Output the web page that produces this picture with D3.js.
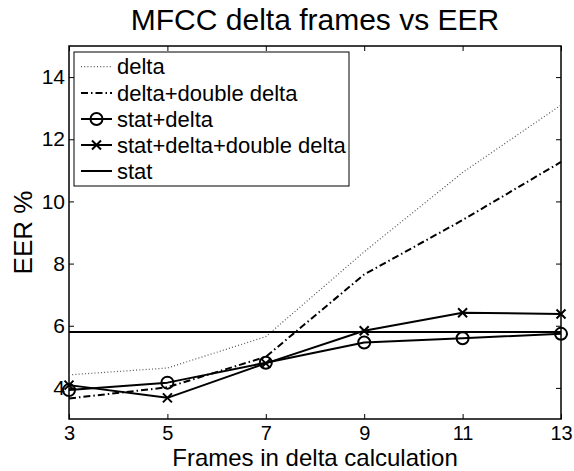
<!DOCTYPE html>
<html>
<head>
<meta charset="utf-8">
<script src="https://cdn.jsdelivr.net/npm/d3@7"></script>
<style>
  html, body { margin: 0; padding: 0; background: #fff; }
  svg { display: block; font-family: "Liberation Sans", Arial, Helvetica, sans-serif; }
</style>
</head>
<body>
<svg id="chart" width="574" height="471"></svg>
<script>
// ---- data ----
const frames = [3, 5, 7, 9, 11, 13];
const delta = [4.42, 4.64, 5.65, 8.38, 10.93, 13.1];
const deltaDouble = [3.66, 4.02, 5.0, 7.65, 9.4, 11.27];
const statDelta = [3.93, 4.17, 4.81, 5.46, 5.6, 5.74];
const statDeltaDouble = [4.09, 3.68, 4.79, 5.84, 6.42, 6.38];
const stat = [5.8, 5.8, 5.8, 5.8, 5.8, 5.8];
const xTicks = [3, 5, 7, 9, 11, 13];
const yTicks = [4, 6, 8, 10, 12, 14];
const seriesNames = ["delta", "delta+double delta", "stat+delta", "stat+delta+double delta", "stat"];

const svg = d3.select("#chart");
const L = 69, R = 561, T = 46, B = 419;
const x = d3.scaleLinear().domain([3, 13]).range([L, R]);
const y = d3.scaleLinear().domain([3, 15]).range([B, T]);

const styles = [
  { stroke: "#555", width: 1.2, dash: "1,2.2", marker: null },
  { stroke: "#000", width: 2, dash: "7,3,1.5,3", marker: null },
  { stroke: "#000", width: 2, dash: null, marker: "circle" },
  { stroke: "#000", width: 2, dash: null, marker: "x" },
  { stroke: "#000", width: 2, dash: null, marker: null }
];
const allSeries = [delta, deltaDouble, statDelta, statDeltaDouble, stat];

// ticks (inside, all four sides)
const tickLen = 5;
const g = svg.append("g");
g.append("g").attr("transform", `translate(0,${B})`)
  .call(d3.axisBottom(x).tickValues(xTicks).tickSize(-tickLen).tickPadding(10).tickFormat(d3.format("d")))
  .call(a => a.select(".domain").remove())
  .call(a => a.selectAll("line").attr("stroke", "#000").attr("stroke-width", 1))
  .call(a => a.selectAll("text").attr("font-size", 20).attr("fill", "#000").attr("dy", "0.71em").attr("y", 6.6));
g.append("g").attr("transform", `translate(0,${T})`)
  .call(d3.axisTop(x).tickValues(xTicks).tickSize(-tickLen).tickFormat(""))
  .call(a => a.select(".domain").remove())
  .call(a => a.selectAll("line").attr("stroke", "#000").attr("stroke-width", 1));
g.append("g").attr("transform", `translate(${L},0)`)
  .call(d3.axisLeft(y).tickValues(yTicks).tickSize(-tickLen).tickPadding(4).tickFormat(d3.format("d")))
  .call(a => a.select(".domain").remove())
  .call(a => a.selectAll("line").attr("stroke", "#000").attr("stroke-width", 1))
  .call(a => a.selectAll("text").attr("font-size", 21).attr("fill", "#000"));
g.append("g").attr("transform", `translate(${R},0)`)
  .call(d3.axisRight(y).tickValues(yTicks).tickSize(-tickLen).tickFormat(""))
  .call(a => a.select(".domain").remove())
  .call(a => a.selectAll("line").attr("stroke", "#000").attr("stroke-width", 1));

// box
svg.append("rect").attr("x", L).attr("y", T).attr("width", R - L).attr("height", B - T)
  .attr("fill", "none").attr("stroke", "#000").attr("stroke-width", 1.5);

// lines
const line = d3.line().x((d, i) => x(frames[i])).y(d => y(d));
function drawMarker(sel, type, cx, cy) {
  if (type === "circle") {
    sel.append("circle").attr("cx", cx).attr("cy", cy).attr("r", 6)
      .attr("fill", "none").attr("stroke", "#000").attr("stroke-width", 2);
  } else if (type === "x") {
    const s = 4.5;
    sel.append("path").attr("d", `M${cx - s},${cy - s}L${cx + s},${cy + s}M${cx - s},${cy + s}L${cx + s},${cy - s}`)
      .attr("stroke", "#000").attr("stroke-width", 2);
  }
}
allSeries.forEach((vals, k) => {
  const st = styles[k];
  const p = svg.append("path").datum(vals).attr("d", line)
    .attr("fill", "none").attr("stroke", st.stroke).attr("stroke-width", st.width)
    .attr("stroke-linejoin", "round");
  if (st.dash) p.attr("stroke-dasharray", st.dash);
  if (st.marker) {
    const mg = svg.append("g");
    vals.forEach((v, i) => drawMarker(mg, st.marker, x(frames[i]), y(v)));
  }
});

// legend
const lg = svg.append("g");
lg.append("rect").attr("x", 74).attr("y", 52).attr("width", 275).attr("height", 134)
  .attr("fill", "#fff").attr("stroke", "#000").attr("stroke-width", 1);
const rowY = [66.7, 93, 119, 145, 171];
seriesNames.forEach((name, k) => {
  const st = styles[k];
  const yy = rowY[k];
  const l = lg.append("line").attr("x1", 81).attr("x2", 112).attr("y1", yy).attr("y2", yy)
    .attr("stroke", st.stroke).attr("stroke-width", st.width);
  if (st.dash) l.attr("stroke-dasharray", st.dash);
  if (st.marker) drawMarker(lg, st.marker, 96.5, yy);
  lg.append("text").attr("x", 117).attr("y", yy).attr("dy", "0.35em")
    .attr("font-size", 22).attr("fill", "#000").text(name);
});

// title and labels
svg.append("text").attr("x", (L + R) / 2).attr("y", 30).attr("text-anchor", "middle")
  .attr("font-size", 30).attr("fill", "#000").text("MFCC delta frames vs EER");
svg.append("text").attr("x", (L + R) / 2).attr("y", 465.8).attr("text-anchor", "middle")
  .attr("font-size", 24).attr("fill", "#000").text("Frames in delta calculation");
svg.append("text").attr("transform", `translate(32,${(T + B) / 2}) rotate(-90)`)
  .attr("text-anchor", "middle").attr("font-size", 26).attr("fill", "#000").text("EER %");
</script>
</body>
</html>
